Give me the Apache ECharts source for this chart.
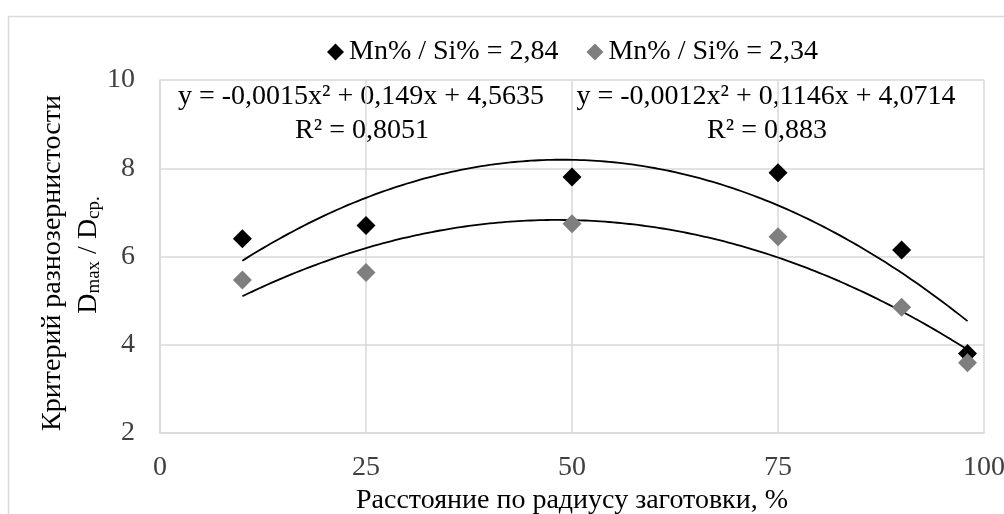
<!DOCTYPE html>
<html>
<head>
<meta charset="utf-8">
<script src="https://cdn.jsdelivr.net/npm/echarts@6/dist/echarts.min.js"></script>
<style>html,body{margin:0;padding:0;background:#fff}#c{width:1004px;height:514px}</style>
</head>
<body>
<div id="c"></div>
<script>
const xValues = [10, 25, 50, 75, 90, 98];
const seriesA = [6.4, 6.7, 7.8, 7.9, 6.15, 3.8];
const seriesB = [5.47, 5.64, 6.74, 6.45, 4.85, 3.59];
const seriesNames = ['Mn% / Si% = 2,84', 'Mn% / Si% = 2,34'];
const xTicks = [0, 25, 50, 75, 100];
const yTicks = [2, 4, 6, 8, 10];
const eqA = ['y = -0,0015x² + 0,149x + 4,5635', 'R² = 0,8051'];
const eqB = ['y = -0,0012x² + 0,1146x + 4,0714', 'R² = 0,883'];
const xTitle = 'Расстояние по радиусу заготовки, %';
const yTitle1 = 'Критерий разнозернистости';

const FONT = "'Liberation Serif', 'Times New Roman', 'DejaVu Serif', serif";
const FS = 28;

function polyFit2(xs, ys) {
  const S = [0,0,0,0,0], T = [0,0,0];
  for (let i = 0; i < xs.length; i++) {
    let p = 1;
    for (let k = 0; k < 5; k++) { S[k] += p; if (k < 3) T[k] += p * ys[i]; p *= xs[i]; }
  }
  const M = [[S[0],S[1],S[2],T[0]],[S[1],S[2],S[3],T[1]],[S[2],S[3],S[4],T[2]]];
  for (let c = 0; c < 3; c++) {
    for (let r = c + 1; r < 3; r++) {
      const f = M[r][c] / M[c][c];
      for (let k = c; k < 4; k++) M[r][k] -= f * M[c][k];
    }
  }
  const a = [0,0,0];
  for (let r = 2; r >= 0; r--) {
    let s = M[r][3];
    for (let k = r + 1; k < 3; k++) s -= M[r][k] * a[k];
    a[r] = s / M[r][r];
  }
  return a;
}
function trend(xs, ys) {
  const a = polyFit2(xs, ys);
  const pts = [];
  const x0 = xs[0], x1 = xs[xs.length - 1];
  for (let x = x0; x <= x1 + 1e-9; x += 0.5) pts.push([x, a[0] + a[1] * x + a[2] * x * x]);
  return pts;
}
const pairs = (ys) => xValues.map((x, i) => [x, ys[i]]);

const chart = echarts.init(document.getElementById('c'), null, {renderer: 'canvas'});
const textStyle = {fontFamily: FONT, fontSize: FS, color: '#000'};
chart.setOption({
  animation: false,
  backgroundColor: '#fff',
  textStyle: {fontFamily: FONT},
  grid: {left: 160, top: 80, right: 20, bottom: 81, containLabel: false, outerBoundsMode: 'none'},
  legend: {
    left: 322, top: 33,
    itemWidth: 17, itemHeight: 17, itemGap: 28,
    textStyle: textStyle,
    data: [
      {name: seriesNames[0], icon: 'diamond'},
      {name: seriesNames[1], icon: 'diamond'}
    ]
  },
  xAxis: {
    type: 'value', min: 0, max: 100, interval: 25,
    axisLine: {show: true, lineStyle: {color: '#d9d9d9', width: 1.5}},
    axisTick: {show: false},
    splitLine: {show: true, lineStyle: {color: '#d9d9d9', width: 1.5}},
    axisLabel: {fontFamily: FONT, fontSize: FS, color: '#404040', margin: 21,
      formatter: v => xTicks.includes(v) ? String(v) : ''},
    name: xTitle, nameLocation: 'middle', nameGap: 54,
    nameTextStyle: {fontFamily: FONT, fontSize: FS, color: '#000'}
  },
  yAxis: {
    type: 'value', min: 2, max: 10, interval: 2,
    axisLine: {show: true, lineStyle: {color: '#d9d9d9', width: 1.5}},
    axisTick: {show: false},
    splitLine: {show: true, lineStyle: {color: '#d9d9d9', width: 1.5}},
    axisLabel: {fontFamily: FONT, fontSize: FS, color: '#404040', margin: 25,
      formatter: v => yTicks.includes(v) ? String(v) : ''}
  },
  series: [
    {type: 'line', name: 'trendA', data: trend(xValues, seriesA), showSymbol: false, smooth: false,
      lineStyle: {color: '#000', width: 1.8}, z: 2, silent: true},
    {type: 'line', name: 'trendB', data: trend(xValues, seriesB), showSymbol: false, smooth: false,
      lineStyle: {color: '#000', width: 1.8}, z: 2, silent: true},
    {type: 'scatter', name: seriesNames[0], data: pairs(seriesA), symbol: 'diamond', symbolSize: 19,
      itemStyle: {color: '#000', opacity: 1}, z: 3},
    {type: 'scatter', name: seriesNames[1], data: pairs(seriesB), symbol: 'diamond', symbolSize: 19,
      itemStyle: {color: '#7f7f7f', opacity: 1}, z: 3}
  ],
  graphic: [
    {type: 'rect', shape: {x: 8.5, y: 16.5, width: 1100, height: 600}, style: {fill: null, stroke: '#d9d9d9', lineWidth: 1.5}, silent: true, z: -1},
    {type: 'text', x: 53, y: 263, rotation: Math.PI / 2,
      style: {text: yTitle1, fontFamily: FONT, fontSize: FS, fill: '#000', align: 'center', verticalAlign: 'middle'}},
    {type: 'text', x: 89, y: 255, rotation: Math.PI / 2,
      style: {text: '{b|D}{s|max}{b| / D}{s|ср.}', align: 'center', verticalAlign: 'middle', fill: '#000',
        rich: {
          b: {fontFamily: FONT, fontSize: FS, fill: '#000', verticalAlign: 'bottom', padding: [0, 0, 1, 0]},
          s: {fontFamily: FONT, fontSize: 19, fill: '#000', verticalAlign: 'bottom'}
        }}},
    {type: 'text', x: 361, y: 97, style: {text: eqA[0], fontFamily: FONT, fontSize: FS, fill: '#000', align: 'center', verticalAlign: 'middle'}},
    {type: 'text', x: 362, y: 131, style: {text: eqA[1], fontFamily: FONT, fontSize: FS, fill: '#000', align: 'center', verticalAlign: 'middle'}},
    {type: 'text', x: 766, y: 97, style: {text: eqB[0], fontFamily: FONT, fontSize: FS, fill: '#000', align: 'center', verticalAlign: 'middle'}},
    {type: 'text', x: 767, y: 131, style: {text: eqB[1], fontFamily: FONT, fontSize: FS, fill: '#000', align: 'center', verticalAlign: 'middle'}}
  ]
});
</script>
</body>
</html>
